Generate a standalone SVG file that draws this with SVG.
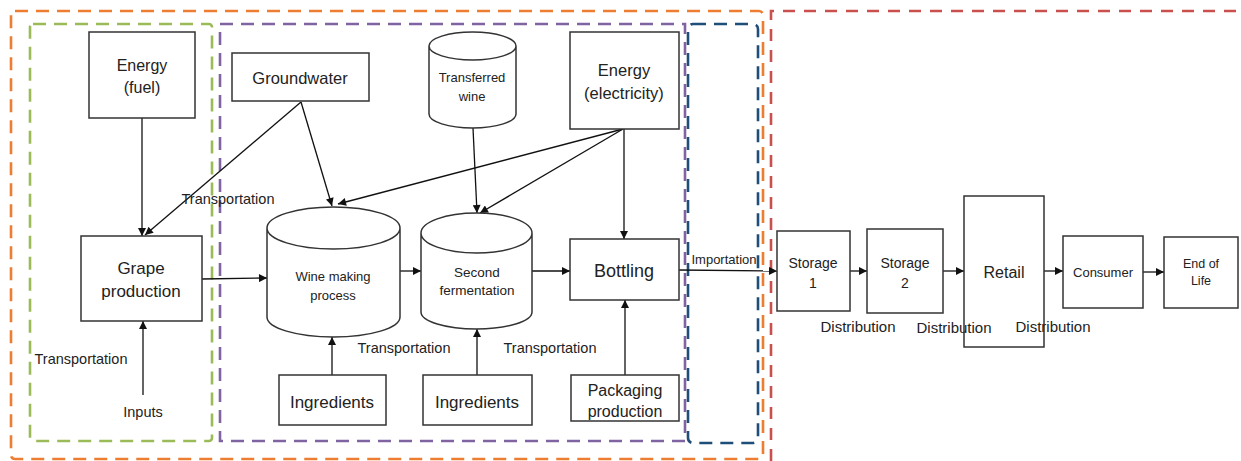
<svg xmlns="http://www.w3.org/2000/svg" width="1241" height="461" viewBox="0 0 1241 461">
<style>
.box{fill:#fff;stroke:#333;stroke-width:1.5}
.cyl{fill:#fff;stroke:#333;stroke-width:1.5}
.t{font-family:"Liberation Sans",Arial,sans-serif;fill:#222;text-anchor:middle;dominant-baseline:central}
.c line,.c path{stroke:#111;stroke-width:1.3;fill:none;marker-end:url(#ah)}
.d{fill:none;stroke-width:2.6}
</style>
<defs>
<marker id="ah" viewBox="0 0 10 10" refX="10" refY="5" markerWidth="9" markerHeight="8" markerUnits="userSpaceOnUse" orient="auto">
<path d="M0,0 L10,5 L0,10 z" fill="#111"/>
</marker>
</defs>
<rect width="1241" height="461" fill="#fff"/>

<g id="boundaries">
<path class="d" d="M771,461 V11 H1241" stroke="#C9504D" stroke-dasharray="12,9"/>
<rect class="d" x="11" y="11" width="752" height="448" rx="4" stroke="#ED7D31" stroke-width="3" stroke-dasharray="13,8"/>
<rect class="d" x="30" y="24" width="182" height="417" rx="3" stroke="#9BBB59" stroke-dasharray="13,8"/>
<rect class="d" x="220" y="24" width="465" height="417" stroke="#8064A2" stroke-dasharray="13,8"/>
<rect class="d" x="688" y="24" width="70" height="419" rx="5" stroke="#1F4E79" stroke-dasharray="13,8"/>
</g>

<g class="c" id="connectors">
<line x1="142" y1="118" x2="142" y2="236"/>
<line x1="301" y1="102" x2="145" y2="235"/>
<line x1="301" y1="102" x2="332" y2="206"/>
<line x1="623" y1="129" x2="338" y2="204"/>
<line x1="623" y1="129" x2="480" y2="213"/>
<line x1="473" y1="128" x2="477" y2="213"/>
<line x1="624" y1="129" x2="624" y2="239"/>
<line x1="202" y1="279" x2="267" y2="278"/>
<line x1="400" y1="271" x2="421" y2="271"/>
<line x1="532" y1="271" x2="570" y2="271"/>
<line x1="679" y1="270" x2="777" y2="271"/>
<line x1="850" y1="271" x2="867" y2="271"/>
<line x1="943" y1="271" x2="964" y2="271"/>
<line x1="1044" y1="271" x2="1063" y2="271"/>
<line x1="1143" y1="272" x2="1164" y2="272"/>
<line x1="332" y1="375" x2="332" y2="337"/>
<line x1="477" y1="375" x2="477" y2="329"/>
<line x1="625" y1="375" x2="625" y2="300"/>
<line x1="143" y1="395" x2="143" y2="321"/>
</g>

<g id="energy-fuel">
<rect class="box" x="89" y="32" width="106" height="86"/>
<text class="t" x="142" y="65" font-size="16">Energy</text>
<text class="t" x="142" y="87" font-size="16">(fuel)</text>
</g>
<g id="groundwater">
<rect class="box" x="232" y="53" width="137" height="48"/>
<text class="t" x="300" y="78" font-size="16.5">Groundwater</text>
</g>
<g id="transferred-wine">
<path class="cyl" d="M429,46 A43.5,14 0 0 1 516,46 V114 A43.5,14 0 0 1 429,114 Z M429,46 A43.5,14 0 0 0 516,46"/>
<text class="t" x="472" y="77" font-size="13">Transferred</text>
<text class="t" x="472" y="96" font-size="13">wine</text>
</g>
<g id="energy-electricity">
<rect class="box" x="570" y="32" width="109" height="97"/>
<text class="t" x="624" y="70" font-size="16.5">Energy</text>
<text class="t" x="624" y="93" font-size="16.5">(electricity)</text>
</g>
<g id="grape-production">
<rect class="box" x="81" y="236" width="121" height="85"/>
<text class="t" x="141" y="268" font-size="17">Grape</text>
<text class="t" x="141" y="291" font-size="17">production</text>
</g>
<g id="wine-making">
<path class="cyl" d="M267,228 A66.5,21 0 0 1 400,228 V317 A66.5,20 0 0 1 267,317 Z M267,228 A66.5,21 0 0 0 400,228"/>
<text class="t" x="333" y="276" font-size="13">Wine making</text>
<text class="t" x="333" y="295" font-size="13">process</text>
</g>
<g id="second-fermentation">
<path class="cyl" d="M421,233 A55.5,20 0 0 1 532,233 V312 A55.5,17 0 0 1 421,312 Z M421,233 A55.5,20 0 0 0 532,233"/>
<text class="t" x="477" y="272" font-size="13.5">Second</text>
<text class="t" x="477" y="290" font-size="13.5">fermentation</text>
</g>
<g id="bottling">
<rect class="box" x="570" y="239" width="109" height="61"/>
<text class="t" x="624" y="271" font-size="18">Bottling</text>
</g>
<g id="ingredients-1">
<rect class="box" x="279" y="375" width="107" height="50"/>
<text class="t" x="332" y="402" font-size="17">Ingredients</text>
</g>
<g id="ingredients-2">
<rect class="box" x="423" y="375" width="109" height="50"/>
<text class="t" x="477" y="402" font-size="17">Ingredients</text>
</g>
<g id="packaging-production">
<rect class="box" x="571" y="375" width="108" height="46"/>
<text class="t" x="625" y="390" font-size="16">Packaging</text>
<text class="t" x="625" y="411" font-size="16">production</text>
</g>
<g id="storage-1">
<rect class="box" x="777" y="231" width="73" height="80"/>
<text class="t" x="813" y="263" font-size="14">Storage</text>
<text class="t" x="813" y="283" font-size="14">1</text>
</g>
<g id="storage-2">
<rect class="box" x="867" y="229" width="76" height="84"/>
<text class="t" x="905" y="263" font-size="14">Storage</text>
<text class="t" x="905" y="283" font-size="14">2</text>
</g>
<g id="retail">
<rect class="box" x="964" y="196" width="80" height="151"/>
<text class="t" x="1004" y="272" font-size="16">Retail</text>
</g>
<g id="consumer">
<rect class="box" x="1063" y="236" width="80" height="72"/>
<text class="t" x="1103" y="272" font-size="13">Consumer</text>
</g>
<g id="end-of-life">
<rect class="box" x="1164" y="237" width="74" height="71"/>
<text class="t" x="1201" y="264" font-size="12.5">End of</text>
<text class="t" x="1201" y="281" font-size="12.5">Life</text>
</g>

<g id="labels">
<text class="t" x="228" y="199" font-size="14.5">Transportation</text>
<text class="t" x="81" y="359" font-size="14.5">Transportation</text>
<text class="t" x="404" y="348" font-size="14.5">Transportation</text>
<text class="t" x="550" y="348" font-size="14.5">Transportation</text>
<text class="t" x="143" y="412" font-size="14.5">Inputs</text>
<text class="t" x="724" y="259" font-size="13" fill="#333">Importation</text>
<text class="t" x="858" y="326" font-size="15">Distribution</text>
<text class="t" x="954" y="327" font-size="15">Distribution</text>
<text class="t" x="1053" y="326" font-size="15">Distribution</text>
</g>
</svg>
